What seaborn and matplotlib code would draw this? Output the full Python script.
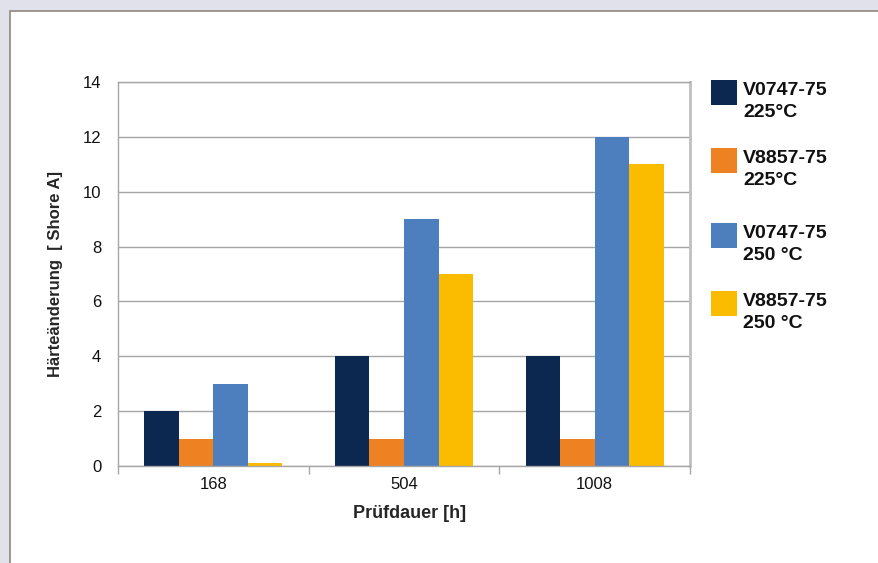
import matplotlib
matplotlib.use("Agg")
import matplotlib.pyplot as plt
from matplotlib.patches import Rectangle
import seaborn as sns
import pandas as pd

# Test durations (hours) and hardness change per compound / temperature
durations = ["168", "504", "1008"]
compounds = ["V0747-75", "V8857-75", "V0747-75", "V8857-75"]
temperatures = ["225°C", "225°C", "250 °C", "250 °C"]
v0747_225 = [2, 4, 4]
v8857_225 = [1, 1, 1]
v0747_250 = [3, 9, 12]
v8857_250 = [0.1, 7, 11]
colors = ["#0C2750", "#EE8121", "#4D7EBE", "#FBBC00"]

series = [f"{c}\n{t}" for c, t in zip(compounds, temperatures)]
rows = []
for name, vals in zip(series, [v0747_225, v8857_225, v0747_250, v8857_250]):
    for d, v in zip(durations, vals):
        rows.append({"Prüfdauer": d, "Wert": v, "Serie": name})
df = pd.DataFrame(rows)

sns.set_theme(style="white")
plt.rcParams["font.family"] = ["Liberation Sans", "DejaVu Sans"]

W, H = 879, 563
fig = plt.figure(figsize=(W / 100, H / 100), dpi=100)
fig.patch.set_facecolor("#E1E1EB")


def fx(px):
    return px / W


def fy(py):
    return 1 - py / H


# white sheet with a thin frame on the left and top
fig.patches.append(Rectangle((fx(10), -0.1), 1.2, fy(10.5) + 0.1,
                             transform=fig.transFigure, facecolor="white",
                             edgecolor="#8F887C", linewidth=1.2, zorder=-5))

ax = fig.add_axes([fx(118), fy(466), fx(690) - fx(118), fy(82) - fy(466)])
ax.set_facecolor("none")
sns.barplot(data=df, x="Prüfdauer", y="Wert", hue="Serie", order=durations,
            hue_order=series, palette=colors, saturation=1, width=0.724,
            gap=0, ax=ax, legend=False, linewidth=0)

ax.set_xlim(-0.5, 2.5)
ax.set_ylim(0, 14)
ax.set_yticks(range(0, 15, 2))
ax.yaxis.grid(True, color="#A6A6A6", linewidth=1)
ax.set_axisbelow(True)
for s in ax.spines.values():
    s.set_color("#A6A6A6")
    s.set_linewidth(1)
ax.spines["right"].set_color("#C0C0C0")
ax.spines["right"].set_linewidth(2)

ax.set_xticks([0, 1, 2])
ax.set_xticklabels(durations)
ax.set_xticks([-0.5, 0.5, 1.5, 2.5], minor=True)
ax.tick_params(axis="x", which="major", length=0, pad=8, labelsize=12, labelcolor="#111111")
ax.tick_params(axis="x", which="minor", length=6, width=1, color="#A6A6A6", direction="out", bottom=True)
ax.tick_params(axis="y", length=0, pad=12, labelsize=12, labelcolor="#111111")

ax.set_xlabel("Prüfdauer [h]", fontsize=13, fontweight="bold", labelpad=9)
ax.xaxis.label.set_x(0.51)
ax.set_ylabel("Härteänderung  [ Shore A]", fontsize=12, fontweight="bold", labelpad=14)

# legend: colour square with two-line bold label beside it
square_tops = [80, 148, 223, 291]
for top, color, comp, temp in zip(square_tops, colors, compounds, temperatures):
    fig.patches.append(Rectangle((fx(711), fy(top + 25)), fx(737) - fx(711), fy(top) - fy(top + 25),
                                 transform=fig.transFigure, facecolor=color,
                                 edgecolor="none"))
    fig.text(fx(743), fy(top + 15), comp, fontsize=14, fontweight="bold",
             va="baseline", ha="left", color="#111111")
    fig.text(fx(743), fy(top + 37), temp, fontsize=14, fontweight="bold",
             va="baseline", ha="left", color="#111111")

fig.savefig("out.png", dpi=100, facecolor=fig.get_facecolor())
